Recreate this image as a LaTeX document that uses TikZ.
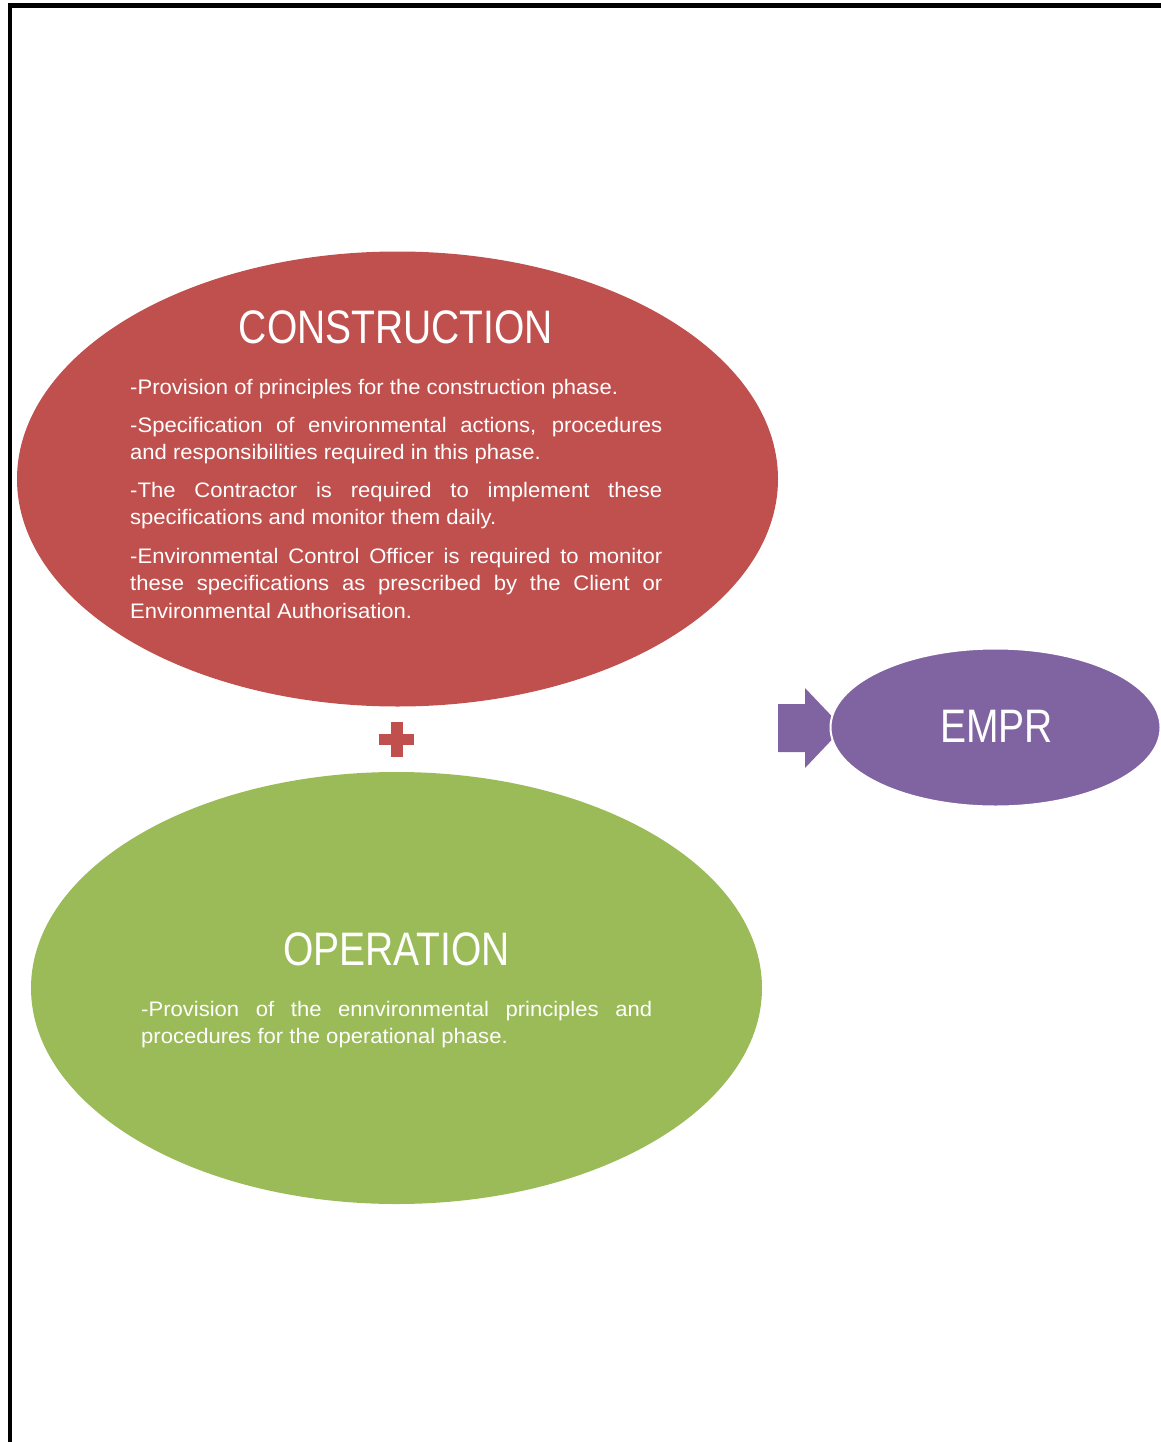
\documentclass[tikz,border=0pt]{standalone}
\usepackage{fontspec}
\usetikzlibrary{shapes.geometric}
\newfontfamily\titlefont{Liberation Sans}[FakeStretch=0.83]
\newfontfamily\bodyfont{Liberation Sans}[FakeStretch=1.05]
\definecolor{cred}{HTML}{C0504D}
\definecolor{cgreen}{HTML}{9BBB59}
\definecolor{cpurple}{HTML}{8064A2}
\hyphenpenalty=10000
\exhyphenpenalty=10000
\tolerance=9999
\emergencystretch=20pt
\begin{document}
\begin{tikzpicture}[x=1pt,y=-1pt,
  phase/.style={ellipse, inner sep=0pt, draw=none},
  titletext/.style={inner sep=0pt, text=white, font=\titlefont\fontsize{47}{50}\selectfont},
  bodytext/.style={inner sep=0pt, text=white, align=justify,
    font=\bodyfont\fontsize{21}{27.5}\selectfont}]
\useasboundingbox (0,0) rectangle (1161,1442);
% frame lines
\fill[black] (7.5,3) rectangle (1161,8);
\fill[black] (7.5,3) rectangle (12,1442);
% ellipses
\node[phase, fill=cred, minimum width=761pt, minimum height=455pt] (con) at (397.5,479) {};
\node[phase, fill=cgreen, minimum width=731pt, minimum height=432pt] (op) at (396.5,988) {};
% plus sign
\coordinate (plus) at (397,740);
\fill[cred] (391,722) rectangle (403,757);
\fill[cred] (379,734) rectangle (414,745);
% block arrow
\coordinate (a0) at (778,728);
\fill[cpurple] (778,704) -- (805,704) -- (805,688) -- (843,728) -- (805,768) -- (805,752) -- (778,752) -- cycle;
% EMPR
\node[phase, fill=cpurple, draw=white, line width=2pt, minimum width=330pt, minimum height=158pt] (empr) at (995.5,727.5) {};
% texts
\node[titletext, anchor=base] (cont) at (396,343) {CONSTRUCTION};
\node[bodytext, text width=532pt, anchor=base west] (c1) at (130,394) {-Provision of principles for the construction phase.};
\node[bodytext, text width=532pt, anchor=base west] (c2) at (130,432) {-Specification of environmental actions, procedures\linebreak and responsibilities required in this phase.};
\node[bodytext, text width=532pt, anchor=base west] (c3) at (130,497) {-The Contractor is required to implement these\linebreak specifications and monitor them daily.};
\node[bodytext, text width=532pt, anchor=base west] (c4) at (130,563) {-Environmental Control Officer is required to monitor\linebreak these specifications as prescribed by the Client or\linebreak Environmental Authorisation.};
\node[titletext, anchor=base] (opt) at (396.5,965) {OPERATION};
\node[bodytext, text width=511pt, anchor=base west] (o1) at (141,1016) {-Provision of the ennvironmental principles and\linebreak procedures for the operational phase.};
\node[titletext, anchor=base] (emprt) at (996.5,742) {EMPR};
\end{tikzpicture}
\end{document}
